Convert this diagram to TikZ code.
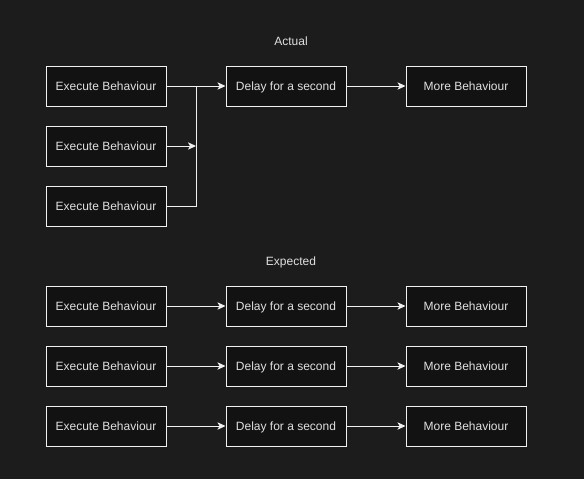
\documentclass[tikz,border=0pt]{standalone}
\usepackage{fontspec}
\setmainfont{Liberation Sans}
\usetikzlibrary{arrows.meta}
\definecolor{bg}{HTML}{1C1C1C}
\definecolor{boxfill}{HTML}{121212}
\definecolor{edge}{HTML}{F0F0F0}
\definecolor{txt}{HTML}{E0E0E0}
\tikzset{
  blk/.style={draw=edge, fill=boxfill, line width=0.75pt, minimum width=90pt, minimum height=30pt, inner sep=0pt, text height=8.1pt, text depth=1.9pt, text=txt, font=\fontsize{9}{11}\selectfont},
  lbl/.style={text=txt, font=\fontsize{9}{11}\selectfont, inner sep=0pt, text height=8.1pt, text depth=1.9pt},
  conn/.style={draw=edge, line width=0.75pt, -{Stealth[length=6pt,width=5.5pt,inset=1.5pt]}},
  plain/.style={draw=edge, line width=0.75pt}
}
\begin{document}
\begin{tikzpicture}[x=0.75pt,y=-0.75pt]
\fill[bg] (0,0) rectangle (584,479);
\useasboundingbox (0,0) rectangle (584,479);
\node[lbl] (tA) at (291,41) {Actual};
\node[lbl] (tE) at (291,261) {Expected};
% Actual
\node[blk] (a1) at (106,86) {Execute Behaviour};
\node[blk] (a2) at (106,146) {Execute Behaviour};
\node[blk] (a3) at (106,206) {Execute Behaviour};
\node[blk] (ad) at (286,86) {Delay for a second};
\node[blk] (am) at (466,86) {More Behaviour};
\coordinate (j1) at (196,86);
\coordinate (j2) at (196,146);
\draw[conn] (a1) -- (ad);
\draw[conn] (a2) -- (j2);
\draw[plain] (a3.east) -| (j1);
\draw[conn] (ad) -- (am);
% Expected
\foreach \r/\y in {1/306,2/366,3/426}{
  \node[blk] (e\r) at (106,\y) {Execute Behaviour};
  \node[blk] (d\r) at (286,\y) {Delay for a second};
  \node[blk] (m\r) at (466,\y) {More Behaviour};
  \draw[conn] (e\r) -- (d\r);
  \draw[conn] (d\r) -- (m\r);
}
\end{tikzpicture}
\end{document}
